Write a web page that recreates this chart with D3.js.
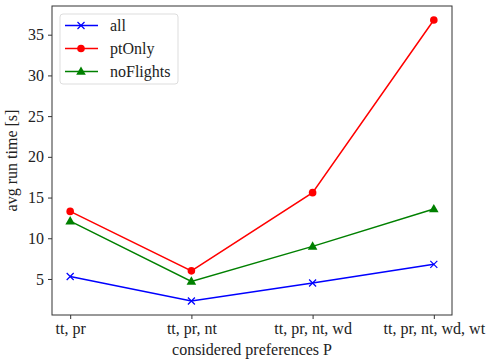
<!DOCTYPE html>
<html>
<head>
<meta charset="utf-8">
<script src="https://cdn.jsdelivr.net/npm/d3@7"></script>
<style>
  body { margin: 0; background: #fff; }
  svg text { font-family: "Liberation Serif", "DejaVu Serif", serif; fill: #222; }
</style>
</head>
<body>
<svg width="487" height="360"></svg>
<script>
const categories = ["tt, pr", "tt, pr, nt", "tt, pr, nt, wd", "tt, pr, nt, wd, wt"];
const allValues = [5.3, 2.3, 4.5, 6.8];
const ptOnlyValues = [13.3, 6.0, 15.6, 36.8];
const noFlightsValues = [12.1, 4.7, 9.0, 13.6];
const yTicks = [5, 10, 15, 20, 25, 30, 35];

const series = [
  { name: "all", values: allValues, color: "#0000ff", marker: "x" },
  { name: "ptOnly", values: ptOnlyValues, color: "#ff0000", marker: "circle" },
  { name: "noFlights", values: noFlightsValues, color: "#008000", marker: "triangle" }
];

const margin = { top: 6, right: 35, bottom: 45, left: 52 },
      width = 487 - margin.left - margin.right,
      height = 360 - margin.top - margin.bottom;

const svg = d3.select("svg")
  .append("g")
  .attr("transform", `translate(${margin.left},${margin.top})`);

// matplotlib style 5% margins
const x = d3.scalePoint().domain(categories).range([0, width]).padding(0.15);
const yMin = d3.min(series, s => d3.min(s.values)), yMax = d3.max(series, s => d3.max(s.values));
const pad = (yMax - yMin) * 0.05;
const y = d3.scaleLinear().domain([yMin - pad, yMax + pad]).range([height, 0]);

// axes
const xAxis = svg.append("g")
  .attr("transform", `translate(0,${height})`)
  .call(d3.axisBottom(x).tickSize(4).tickPadding(4));
const yAxis = svg.append("g")
  .call(d3.axisLeft(y).tickValues(yTicks).tickSize(4).tickPadding(4));
[xAxis, yAxis].forEach(a => {
  a.select(".domain").remove();
  a.selectAll("text").style("font-size", "16px").attr("fill", "#222");
  a.selectAll("line").attr("stroke", "#333");
});

svg.append("rect")
  .attr("width", width).attr("height", height)
  .attr("fill", "none").attr("stroke", "#333").attr("stroke-width", 1);

// lines and markers
const line = d3.line().x((d, i) => x(categories[i])).y(d => y(d));
series.forEach(s => {
  svg.append("path")
    .datum(s.values)
    .attr("fill", "none")
    .attr("stroke", s.color)
    .attr("stroke-width", 1.5)
    .attr("d", line);
  s.values.forEach((v, i) => drawMarker(svg, x(categories[i]), y(v), s));
});

function drawMarker(g, px, py, s) {
  if (s.marker === "x") {
    g.append("path")
      .attr("d", `M${px - 3.5},${py - 3.5}L${px + 3.5},${py + 3.5}M${px - 3.5},${py + 3.5}L${px + 3.5},${py - 3.5}`)
      .attr("stroke", s.color).attr("stroke-width", 1.2);
  } else if (s.marker === "circle") {
    g.append("circle").attr("cx", px).attr("cy", py).attr("r", 3.8).attr("fill", s.color);
  } else {
    g.append("path")
      .attr("d", d3.symbol().type(d3.symbolTriangle).size(40)())
      .attr("transform", `translate(${px},${py + 0.5})`)
      .attr("fill", s.color);
  }
}

// axis labels
svg.append("text")
  .attr("x", width / 2)
  .attr("y", height + 40)
  .attr("text-anchor", "middle")
  .style("font-size", "16px")
  .text("considered preferences P");

svg.append("text")
  .attr("transform", "rotate(-90)")
  .attr("x", -height / 2)
  .attr("y", -35)
  .attr("text-anchor", "middle")
  .style("font-size", "16px")
  .text("avg run time [s]");

// legend
const legend = svg.append("g").attr("transform", "translate(8,8)");
legend.append("rect")
  .attr("width", 118).attr("height", 70).attr("rx", 3)
  .attr("fill", "#fff").attr("stroke", "#ddd");
series.forEach((s, i) => {
  const ly = 11.5 + i * 23;
  legend.append("line")
    .attr("x1", 5).attr("x2", 38).attr("y1", ly).attr("y2", ly)
    .attr("stroke", s.color).attr("stroke-width", 1.5);
  drawMarker(legend, 21, ly, s);
  legend.append("text")
    .attr("x", 50).attr("y", ly)
    .attr("dy", "0.35em")
    .style("font-size", "16px")
    .text(s.name);
});
</script>
</body>
</html>
